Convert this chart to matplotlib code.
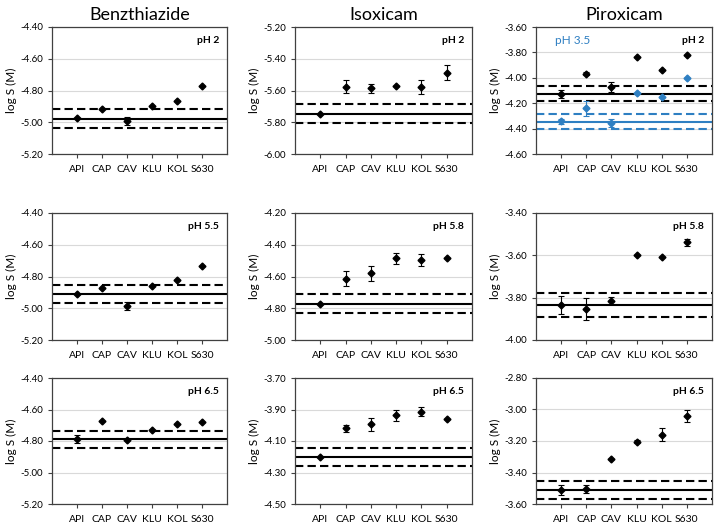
import matplotlib.pyplot as plt
from matplotlib.ticker import FormatStrFormatter
import numpy as np

plt.rcParams['font.family'] = ['Lato', 'DejaVu Sans']

excipients = ["API", "CAP", "CAV", "KLU", "KOL", "S630"]
drugs = ["Benzthiazide", "Isoxicam", "Piroxicam"]

# rows: pH level, cols: drug
ph_labels = [["pH 2", "pH 2", "pH 2"],
             ["pH 5.5", "pH 5.8", "pH 5.8"],
             ["pH 6.5", "pH 6.5", "pH 6.5"]]

# log S values (black series)
benz_ph2 = [-4.975, -4.918, -4.99, -4.90, -4.867, -4.773]
benz_ph2_err = [0.0, 0.0, 0.025, 0.0, 0.0, 0.0]
isox_ph2 = [-5.745, -5.575, -5.587, -5.57, -5.577, -5.488]
isox_ph2_err = [0.0, 0.038, 0.03, 0.0, 0.045, 0.048]
pirox_ph2 = [-4.129, -3.968, -4.074, -3.837, -3.937, -3.818]
pirox_ph2_err = [0.03, 0.012, 0.04, 0.0, 0.0, 0.0]

benz_ph55 = [-4.909, -4.872, -4.987, -4.859, -4.825, -4.735]
benz_ph55_err = [0.0, 0.0, 0.025, 0.0, 0.0, 0.0]
isox_ph58 = [-4.771, -4.613, -4.579, -4.486, -4.497, -4.482]
isox_ph58_err = [0.0, 0.045, 0.047, 0.036, 0.04, 0.0]
pirox_ph58 = [-3.836, -3.853, -3.814, -3.599, -3.607, -3.539]
pirox_ph58_err = [0.042, 0.052, 0.015, 0.0, 0.0, 0.015]

benz_ph65 = [-4.788, -4.676, -4.793, -4.727, -4.695, -4.678]
benz_ph65_err = [0.025, 0.0, 0.0, 0.0, 0.0, 0.0]
isox_ph65 = [-4.201, -4.020, -3.995, -3.936, -3.914, -3.961]
isox_ph65_err = [0.0, 0.02, 0.04, 0.034, 0.03, 0.0]
pirox_ph65 = [-3.511, -3.502, -3.316, -3.205, -3.159, -3.040]
pirox_ph65_err = [0.034, 0.025, 0.0, 0.01, 0.04, 0.04]

# Piroxicam pH 3.5 (blue series in top-right panel)
pirox_ph35 = [-4.342, -4.239, -4.358, -4.118, -4.153, -4.003]
pirox_ph35_err = [0.02, 0.06, 0.03, 0.0, 0.0, 0.0]
pirox_ph35_ref = [-4.347, -4.284, -4.403]

values = [[benz_ph2, isox_ph2, pirox_ph2],
          [benz_ph55, isox_ph58, pirox_ph58],
          [benz_ph65, isox_ph65, pirox_ph65]]
errors = [[benz_ph2_err, isox_ph2_err, pirox_ph2_err],
          [benz_ph55_err, isox_ph58_err, pirox_ph58_err],
          [benz_ph65_err, isox_ph65_err, pirox_ph65_err]]

# API reference: mean, upper, lower
ref_lines = [[[-4.977, -4.918, -5.036], [-5.747, -5.688, -5.806], [-4.126, -4.066, -4.184]],
             [[-4.909, -4.851, -4.966], [-4.771, -4.712, -4.827], [-3.836, -3.779, -3.893]],
             [[-4.788, -4.735, -4.846], [-4.201, -4.146, -4.258], [-3.511, -3.454, -3.570]]]

ylims = [[(-5.20, -4.40), (-6.00, -5.20), (-4.60, -3.60)],
         [(-5.20, -4.40), (-5.00, -4.20), (-4.00, -3.40)],
         [(-5.20, -4.40), (-4.50, -3.70), (-3.60, -2.80)]]

blue = "#2E7FC2"

fig = plt.figure(figsize=(7.18, 5.24), dpi=100)
W, H = 718, 524
col_px = [(52, 227), (295, 472), (536, 712)]
row_px = [(27, 154), (213, 340), (378, 504)]

x = np.arange(1, len(excipients) + 1)

for r in range(3):
    for c in range(3):
        l, rr = col_px[c]
        t, b = row_px[r]
        ax = fig.add_axes([l / W, (H - b) / H, (rr - l) / W, (b - t) / H])
        lo, hi = ylims[r][c]
        ax.set_ylim(lo, hi)
        ax.set_xlim(0, 7)
        ax.set_yticks(np.arange(lo, hi + 0.001, 0.2))
        ax.yaxis.set_major_formatter(FormatStrFormatter('%.2f'))
        ax.set_xticks(x)
        ax.set_xticklabels(excipients)
        ax.grid(axis='y', color='#D9D9D9', linewidth=0.8)
        ax.set_axisbelow(True)
        ax.tick_params(axis='both', labelsize=7, length=3, width=0.8, color='#404040')
        ax.tick_params(axis='x', labelsize=7.5, pad=5)
        for s in ax.spines.values():
            s.set_color('#404040')
            s.set_linewidth(0.9)
        ax.set_ylabel("log S (M)", fontsize=8.5, labelpad=2)

        m, up, dn = ref_lines[r][c]
        ax.axhline(m, color='black', linewidth=1.5)
        ax.axhline(up, color='black', linewidth=1.5, linestyle=(0, (4, 2)))
        ax.axhline(dn, color='black', linewidth=1.5, linestyle=(0, (4, 2)))

        if r == 0 and c == 2:
            m2, up2, dn2 = pirox_ph35_ref
            ax.axhline(m2, color=blue, linewidth=1.5)
            ax.axhline(up2, color=blue, linewidth=1.5, linestyle=(0, (4, 2)))
            ax.axhline(dn2, color=blue, linewidth=1.5, linestyle=(0, (4, 2)))
            ax.errorbar(x, pirox_ph35, yerr=pirox_ph35_err, fmt='D', color=blue,
                        markersize=3.5, capsize=2, elinewidth=0.8, capthick=0.8)
            ax.text(0.11, 0.89, "pH 3.5", transform=ax.transAxes, color=blue,
                    fontsize=8.5, ha='left', va='center')

        ax.errorbar(x, values[r][c], yerr=errors[r][c], fmt='D', color='black',
                    markersize=3.5, capsize=2, elinewidth=0.8, capthick=0.8)
        ax.text(0.955, 0.89, ph_labels[r][c], transform=ax.transAxes,
                fontsize=7.5, fontweight='bold', ha='right', va='center')

        if r == 0:
            ax.set_title(drugs[c], fontsize=13, pad=5)

fig.savefig("out.png", dpi=100)
